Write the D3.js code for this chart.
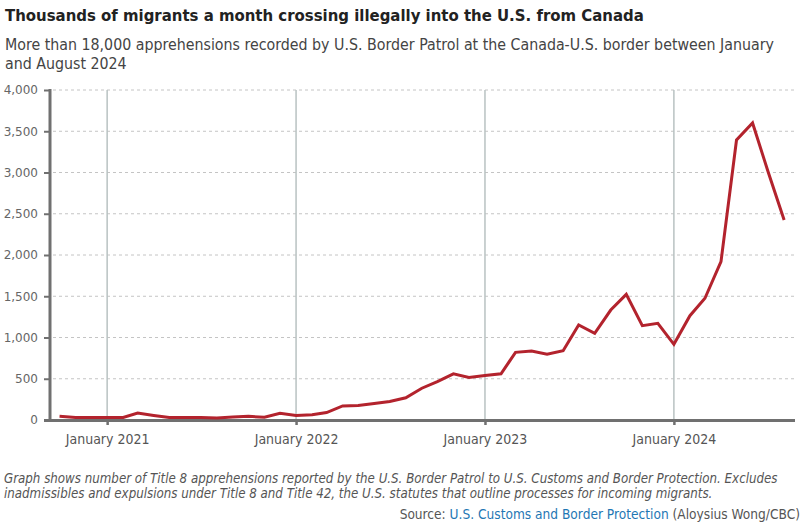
<!DOCTYPE html>
<html><head><meta charset="utf-8">
<script src="https://cdn.jsdelivr.net/npm/d3@7"></script>
<style>
body{margin:0;background:#fff;}
svg{display:block;}
</style></head>
<body>
<svg id="chart" width="809" height="532"></svg>
<script>
const months = ["2020-10","2020-11","2020-12","2021-01","2021-02","2021-03","2021-04","2021-05","2021-06","2021-07","2021-08","2021-09","2021-10","2021-11","2021-12","2022-01","2022-02","2022-03","2022-04","2022-05","2022-06","2022-07","2022-08","2022-09","2022-10","2022-11","2022-12","2023-01","2023-02","2023-03","2023-04","2023-05","2023-06","2023-07","2023-08","2023-09","2023-10","2023-11","2023-12","2024-01","2024-02","2024-03","2024-04","2024-05","2024-06","2024-07","2024-08"];
const apprehensions = [45,30,30,30,30,85,55,30,30,30,25,35,45,33,82,55,65,90,170,175,200,225,270,385,465,560,515,540,560,820,836,796,840,1152,1050,1333,1523,1143,1172,917,1264,1475,1919,3394,3600,3010,2424];
const yTicks = [0,500,1000,1500,2000,2500,3000,3500,4000];
const xTickDates = ["2021-01","2022-01","2023-01","2024-01"];
const xTickLabels = ["January 2021","January 2022","January 2023","January 2024"];

const title = "Thousands of migrants a month crossing illegally into the U.S. from Canada";
const subtitleLines = ["More than 18,000 apprehensions recorded by U.S. Border Patrol at the Canada-U.S. border between January","and August 2024"];
const noteLines = ["Graph shows number of Title 8 apprehensions reported by the U.S. Border Patrol to U.S. Customs and Border Protection. Excludes","inadmissibles and expulsions under Title 8 and Title 42, the U.S. statutes that outline processes for incoming migrants."];

const parse = d3.timeParse("%Y-%m");
const data = months.map((m,i)=>({date:parse(m), value:apprehensions[i]}));

const svg = d3.select("#chart");
const condensed = "'DejaVu Sans Condensed','Liberation Sans Narrow',sans-serif";

const x = d3.scaleTime()
  .domain([new Date(2020,8,1), new Date(2024,7,22)])
  .range([44, 795]);
const y = d3.scaleLinear().domain([0,4000]).range([420, 90]);

// title
svg.append("text").attr("x",5).attr("y",21)
  .attr("font-family",condensed).attr("font-weight","bold").attr("font-size",16.6)
  .attr("fill","#222").text(title);
svg.append("g").selectAll("text").data(subtitleLines).join("text")
  .attr("x",5).attr("y",(d,i)=>50+i*19)
  .attr("font-family",condensed).attr("font-size",15.8).attr("fill","#444").text(d=>d);

// horizontal dashed grid
svg.append("g").selectAll("line").data(yTicks.filter(d=>d>0)).join("line")
  .attr("x1",53).attr("x2",795).attr("y1",d=>y(d)).attr("y2",d=>y(d))
  .attr("stroke","#c4c4c4").attr("stroke-width",1).attr("stroke-dasharray","3,3");

// vertical gridlines at January
svg.append("g").selectAll("line").data(xTickDates.map(parse)).join("line")
  .attr("x1",d=>x(d)).attr("x2",d=>x(d)).attr("y1",90).attr("y2",420)
  .attr("stroke","#b9c2c2").attr("stroke-width",1.5);

// y axis
const yAxis = d3.axisLeft(y).tickValues(yTicks).tickFormat(d3.format(",")).tickSize(6).tickPadding(6);
const gy = svg.append("g").attr("transform","translate(50,0)").call(yAxis);
gy.select(".domain").remove();
gy.selectAll(".tick line").attr("stroke","#707070").attr("stroke-width",2);
gy.selectAll(".tick text").attr("font-family","'DejaVu Sans',sans-serif").attr("font-size",12).attr("fill","#666");
svg.append("line").attr("x1",50).attr("x2",50).attr("y1",89).attr("y2",421)
  .attr("stroke","#707070").attr("stroke-width",3);

// x axis
const xAxis = d3.axisBottom(x).tickValues(xTickDates.map(parse))
  .tickFormat((d,i)=>xTickLabels[i]).tickSize(5).tickPadding(9);
const gx = svg.append("g").attr("transform","translate(0,420)").call(xAxis);
gx.select(".domain").remove();
gx.selectAll(".tick line").attr("stroke","#707070").attr("stroke-width",2.5);
gx.selectAll(".tick text").attr("font-family",condensed).attr("font-size",14).attr("fill","#555");
svg.append("line").attr("x1",44).attr("x2",795).attr("y1",420.5).attr("y2",420.5)
  .attr("stroke","#707070").attr("stroke-width",3);

// line
svg.append("path").datum(data)
  .attr("d", d3.line().x(d=>x(d.date)).y(d=>y(d.value)))
  .attr("fill","none").attr("stroke","#b3232d").attr("stroke-width",3).attr("stroke-linejoin","miter");

// notes
svg.append("g").selectAll("text").data(noteLines).join("text")
  .attr("x",4).attr("y",(d,i)=>483+i*15)
  .attr("font-family",condensed).attr("font-style","italic").attr("font-size",13.2).attr("fill","#555").text(d=>d);

const src = svg.append("text").attr("x",800).attr("y",519).attr("text-anchor","end")
  .attr("font-family",condensed).attr("font-size",13.6).attr("fill","#555");
src.append("tspan").text("Source: ");
src.append("tspan").attr("fill","#1f77b4").text("U.S. Customs and Border Protection");
src.append("tspan").text(" (Aloysius Wong/CBC)");
</script>
</body></html>
